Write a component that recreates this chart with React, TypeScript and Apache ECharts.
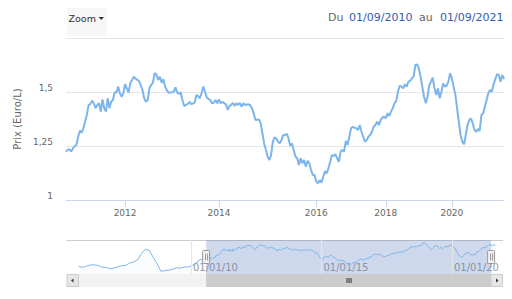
import React, { useEffect, useRef } from 'react';
import * as echarts from 'echarts';

// ---- Main series: fuel price (Euro/L), ordinal points grouped per year ----
const years = [2010, 2011, 2012, 2013, 2014, 2015, 2016, 2017, 2018, 2019, 2020, 2021];
const v2010 = [1.224, 1.232, 1.235, 1.224, 1.239, 1.25, 1.255, 1.293];
const v2011 = [1.321, 1.312, 1.332, 1.363, 1.394, 1.44, 1.444, 1.46, 1.448, 1.425, 1.44, 1.448, 1.409, 1.466, 1.425, 1.409, 1.471, 1.425, 1.455, 1.463, 1.499, 1.497, 1.525, 1.494, 1.478, 1.494];
const v2012 = [1.537, 1.517, 1.497, 1.543, 1.556, 1.571, 1.562, 1.556, 1.551, 1.532, 1.509, 1.471, 1.455, 1.463, 1.517, 1.532, 1.543, 1.587, 1.583, 1.556, 1.571, 1.543, 1.559, 1.525, 1.509, 1.497, 1.498];
const v2013 = [1.499, 1.501, 1.522, 1.497, 1.491, 1.499, 1.463, 1.435, 1.44, 1.444, 1.455, 1.444, 1.447, 1.45, 1.486, 1.481, 1.471, 1.494, 1.525, 1.501, 1.475, 1.468, 1.463, 1.448, 1.45, 1.463, 1.448];
const v2014 = [1.466, 1.448, 1.455, 1.448, 1.444, 1.417, 1.435, 1.44, 1.45, 1.435, 1.448, 1.44, 1.45, 1.432, 1.448, 1.44, 1.442, 1.443, 1.438, 1.425, 1.401, 1.37, 1.372, 1.373, 1.355, 1.309, 1.262, 1.231];
const v2015 = [1.201, 1.185, 1.208, 1.27, 1.29, 1.285, 1.27, 1.262, 1.278, 1.301, 1.301, 1.307, 1.286, 1.251, 1.262, 1.231, 1.201, 1.193, 1.162, 1.193, 1.17, 1.185, 1.154, 1.181, 1.17, 1.139, 1.116, 1.116];
const v2016 = [1.085, 1.077, 1.093, 1.08, 1.108, 1.134, 1.123, 1.147, 1.177, 1.208, 1.204, 1.212, 1.193, 1.177, 1.224, 1.231, 1.224, 1.273, 1.255, 1.293];
const v2017 = [1.332, 1.339, 1.335, 1.332, 1.324, 1.347, 1.316, 1.293, 1.27, 1.278, 1.293, 1.301, 1.316, 1.339, 1.347, 1.363, 1.347, 1.37, 1.381, 1.386];
const v2018 = [1.378, 1.401, 1.389, 1.409, 1.425, 1.448, 1.458, 1.501, 1.529, 1.525, 1.517, 1.536, 1.525, 1.548, 1.551, 1.563, 1.571, 1.625, 1.628];
const v2019 = [1.609, 1.571, 1.525, 1.478, 1.448, 1.478, 1.532, 1.548, 1.566, 1.517, 1.486, 1.517, 1.471, 1.501, 1.54, 1.525, 1.529, 1.548, 1.587];
const v2020 = [1.563, 1.525, 1.489, 1.424, 1.363, 1.301, 1.27, 1.258, 1.301, 1.347, 1.37, 1.378, 1.355, 1.324, 1.316, 1.329, 1.319, 1.394];
const v2021 = [1.401, 1.432, 1.463, 1.494, 1.509, 1.501, 1.536, 1.56, 1.582, 1.579, 1.548, 1.579, 1.56];
const yearValues = [v2010, v2011, v2012, v2013, v2014, v2015, v2016, v2017, v2018, v2019, v2020, v2021];
const seriesStart = 2010.667; // 01/09/2010
const seriesEnd = 2021.667; // 01/09/2021

// ---- Navigator history before the selected range ----
const navPreStart = 2005.7;
const navPreStep = 0.15;
const navPre = [1.026, 1.001, 1.035, 1.06, 1.065, 1.05, 1.001, 1.0, 0.965, 0.985, 1.015, 1.042, 1.05, 1.11, 1.14, 1.19, 1.35, 1.46, 1.44, 1.26, 1.1, 0.899, 0.914, 0.93, 0.95, 0.99, 0.98, 1.01, 1.01, 1.05, 1.12, 1.2, 1.2];
const navTicks = [2010, 2015, 2020];
const selStart = 2010.58;
const selEnd = 2021.5;

// ---- Axis ticks / texts ----
const yTicks = [1, 1.25, 1.5, 1.75];
const yAxisTitle = 'Prix (Euro/L)';
const rangeFrom = '01/09/2010';
const rangeTo = '01/09/2021';

const FONT = '"DejaVu Sans", "Lucida Grande", Arial, sans-serif';

const categories: string[] = [];
const values: number[] = [];
const dates: number[] = [];
years.forEach((y, yi) => {
  const vals = yearValues[yi];
  const s = yi === 0 ? seriesStart : y;
  const last = yi === years.length - 1;
  const e = last ? seriesEnd : y + 1;
  const n = vals.length;
  vals.forEach((v, k) => {
    categories.push(`${y}-${k}`);
    values.push(v);
    dates.push(s + (k * (e - s)) / (last ? n - 1 : n));
  });
});

const navData: number[][] = navPre
  .map((v, i) => [navPreStart + i * navPreStep, v])
  .concat(dates.map((d, i) => [d, values[i]]));

const isYearTick = (_: number, val: string) => {
  const [y, k] = val.split('-');
  const yr = Number(y);
  return k === '0' && yr % 2 === 0 && yr > years[0];
};

const NAV_LEFT = 66.5;
const NAV_RIGHT = 503;
const NAV_TOP = 240;
const NAV_H = 34;
const SB_TOP = 274;
const SB_H = 13;

function buildGraphic(p0: number, p1: number) {
  const txt = (text: string, x: number, y: number, fill: string, size: number) => ({
    type: 'text',
    silent: true,
    style: { text, x, y, fill, font: `${size}px ${FONT}`, textAlign: 'left', textVerticalAlign: 'middle', align: 'left', verticalAlign: 'middle' },
  });
  const mid = (p0 + p1) / 2;
  const hcy = NAV_TOP + NAV_H / 2;
  const handle = (px: number) => [
    { type: 'rect', silent: true, shape: { x: px - 3.5, y: hcy - 6.5, width: 7, height: 13, r: 1 }, style: { fill: '#f2f2f2', stroke: '#999999', lineWidth: 1 }, z: 100 },
    { type: 'line', silent: true, shape: { x1: px - 0.5, y1: hcy - 3.5, x2: px - 0.5, y2: hcy + 3.5 }, style: { stroke: '#999999', lineWidth: 1 }, z: 101 },
    { type: 'line', silent: true, shape: { x1: px + 1.5, y1: hcy - 3.5, x2: px + 1.5, y2: hcy + 3.5 }, style: { stroke: '#999999', lineWidth: 1 }, z: 101 },
  ];
  return [
    // Zoom dropdown
    { type: 'rect', silent: true, shape: { x: 67, y: 8, width: 40, height: 28 }, style: { fill: '#f7f7f7' } },
    txt('Zoom', 68.5, 18.5, '#333333', 9.5),
    { type: 'polygon', silent: true, shape: { points: [[98.5, 17], [104, 17], [101.25, 20]] }, style: { fill: '#333333' } },
    // Range inputs
    txt('Du', 328, 17.5, '#666666', 11),
    txt(rangeFrom, 349, 17.5, '#335cad', 11),
    txt('au', 419, 17.5, '#666666', 11),
    txt(rangeTo, 440, 17.5, '#335cad', 11),
    // Navigator outline
    { type: 'line', silent: true, shape: { x1: NAV_LEFT, y1: NAV_TOP + 0.5, x2: NAV_RIGHT, y2: NAV_TOP + 0.5 }, style: { stroke: '#cccccc', lineWidth: 1 } },
    // Scrollbar
    { type: 'rect', silent: true, shape: { x: NAV_LEFT, y: SB_TOP, width: NAV_RIGHT - NAV_LEFT, height: SB_H }, style: { fill: '#f2f2f2' } },
    { type: 'rect', silent: true, shape: { x: p0, y: SB_TOP, width: p1 - p0, height: SB_H }, style: { fill: '#cccccc' } },
    ...[-2, 0, 2].map((d) => ({ type: 'line', silent: true, shape: { x1: mid + d + 0.5, y1: SB_TOP + 4, x2: mid + d + 0.5, y2: SB_TOP + 9 }, style: { stroke: '#333333', lineWidth: 1 } })),
    { type: 'rect', silent: true, shape: { x: NAV_LEFT + 0.5, y: SB_TOP + 0.5, width: 11.5, height: SB_H - 1 }, style: { fill: '#e6e6e6', stroke: '#cccccc', lineWidth: 1 } },
    { type: 'polygon', silent: true, shape: { points: [[71, 280.5], [73.5, 278.5], [73.5, 282.5]] }, style: { fill: '#333333' } },
    { type: 'rect', silent: true, shape: { x: NAV_RIGHT - 12, y: SB_TOP + 0.5, width: 11.5, height: SB_H - 1 }, style: { fill: '#e6e6e6', stroke: '#cccccc', lineWidth: 1 } },
    { type: 'polygon', silent: true, shape: { points: [[498.5, 280.5], [496, 278.5], [496, 282.5]] }, style: { fill: '#333333' } },
    // Handles
    ...handle(p0),
    ...handle(p1),
  ];
}

export default function App() {
  const ref = useRef<HTMLDivElement>(null);
  useEffect(() => {
    if (!ref.current) return;
    const chart = echarts.init(ref.current, null, { renderer: 'svg' });
    const option: any = {
      animation: false,
      backgroundColor: '#ffffff',
      textStyle: { fontFamily: FONT },
      grid: [
        { left: 66, right: 8, top: 38, height: 162, containLabel: false },
        { left: NAV_LEFT, right: 512 - NAV_RIGHT, top: NAV_TOP, height: NAV_H, containLabel: false },
      ],
      xAxis: [
        {
          type: 'category',
          gridIndex: 0,
          data: categories,
          boundaryGap: false,
          axisLine: { show: true, lineStyle: { color: '#ccd6eb', width: 1 } },
          axisTick: { show: true, interval: isYearTick, length: 7, lineStyle: { color: '#ccd6eb' } },
          axisLabel: {
            interval: isYearTick,
            formatter: (val: string) => val.split('-')[0],
            color: '#666666',
            fontSize: 9,
            fontFamily: FONT,
            margin: 8,
          },
          splitLine: { show: false },
        },
        {
          type: 'value',
          gridIndex: 1,
          min: 2005.232,
          max: 2021.956,
          axisLine: { show: false },
          axisTick: { show: false },
          splitLine: { show: false },
          axisLabel: {
            customValues: navTicks,
            formatter: (v: number) => '01/01/' + String(v).slice(2),
            color: '#999999',
            fontSize: 10,
            fontFamily: FONT,
            align: 'left',
            padding: [0, 0, 0, 2],
            margin: -12,
          },
        },
      ],
      yAxis: [
        {
          type: 'value',
          gridIndex: 0,
          min: yTicks[0],
          max: yTicks[yTicks.length - 1],
          interval: 0.25,
          name: yAxisTitle,
          nameLocation: 'middle',
          nameGap: 42,
          nameRotate: 90,
          nameTextStyle: { color: '#666666', fontSize: 10, fontFamily: FONT },
          axisLine: { show: false },
          axisTick: { show: false },
          axisLabel: {
            color: '#666666',
            fontSize: 9,
            fontFamily: FONT,
            margin: 13,
            verticalAlign: 'bottom',
            formatter: (v: number) => (v === yTicks[yTicks.length - 1] ? '' : String(v).replace('.', ',')),
          },
          splitLine: { show: true, lineStyle: { color: '#e6e6e6', width: 1 } },
        },
        {
          type: 'value',
          gridIndex: 1,
          min: 0.83,
          max: 1.7,
          show: false,
          splitLine: { show: false },
        },
      ],
      series: [
        {
          type: 'line',
          xAxisIndex: 0,
          yAxisIndex: 0,
          data: values,
          showSymbol: false,
          symbol: 'none',
          lineStyle: { color: '#7cb5ec', width: 2 },
          itemStyle: { color: '#7cb5ec' },
          z: 5,
        },
        {
          type: 'line',
          xAxisIndex: 1,
          yAxisIndex: 1,
          data: navData,
          showSymbol: false,
          symbol: 'none',
          lineStyle: { color: '#7cb5ec', width: 1 },
          areaStyle: { color: 'rgba(124,181,236,0.05)' },
          markLine: {
            silent: true,
            symbol: ['none', 'none'],
            label: { show: false },
            lineStyle: { color: '#e6e6e6', width: 1, type: 'solid' },
            data: navTicks.map((v) => ({ xAxis: v })),
          },
          markArea: {
            silent: true,
            itemStyle: { color: 'rgba(102,133,194,0.3)' },
            data: [[{ xAxis: selStart }, { xAxis: selEnd }]],
          },
        },
      ],
    };
    chart.setOption(option);
    const p0 = chart.convertToPixel({ xAxisIndex: 1 }, selStart) as number;
    const p1 = chart.convertToPixel({ xAxisIndex: 1 }, selEnd) as number;
    chart.setOption({ graphic: buildGraphic(p0, p1) });
    return () => chart.dispose();
  }, []);
  return <div ref={ref} style={{ position: 'fixed', left: 0, top: 0, width: 512, height: 299 }} />;
}
